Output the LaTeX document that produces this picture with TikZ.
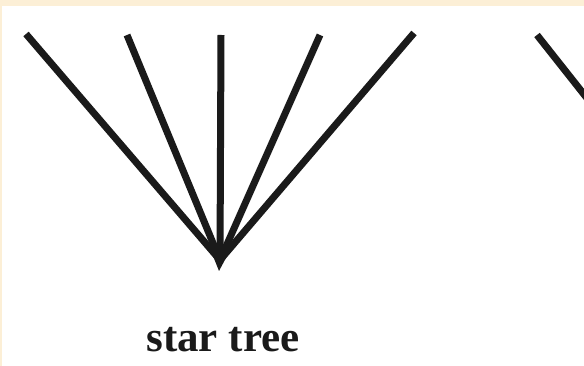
\documentclass[tikz,border=0pt]{standalone}
\usepackage{fontspec}
\setmainfont{Liberation Serif}
\definecolor{cream}{HTML}{FCEFD6}
\definecolor{ink}{HTML}{1A1A1A}
\begin{document}
\begin{tikzpicture}[x=1pt,y=-1pt,
  branch/.style={draw=ink,line width=7pt},
  lbl/.style={font=\bfseries\fontsize{43}{43}\selectfont,text=ink,anchor=base,inner sep=0pt}]
\fill[cream] (0,0) rectangle (584,366);
\fill[white] (2,6) rectangle (584,366);
\useasboundingbox (0,0) rectangle (584,366);
\coordinate (root) at (220,260);
\coordinate (tip) at (219,271);
\coordinate (l1) at (26,34);
\coordinate (l2) at (127,35);
\coordinate (l3) at (221,35);
\coordinate (l4) at (320,35);
\coordinate (l5) at (414,33);
\coordinate (r1) at (537,35);
\coordinate (r2) at (590,102);
\draw[branch] (l1) -- (root);
\draw[branch] (l2) -- (root);
\draw[branch] (l4) -- (root);
\draw[branch] (l5) -- (root);
\draw[branch] (l3) -- (root);
\fill[ink] (213,256) -- (227,256) -- (tip) -- cycle;
\draw[branch] (r1) -- (r2);
\node[lbl] (label) at (223,352) {star tree};
\end{tikzpicture}
\end{document}
